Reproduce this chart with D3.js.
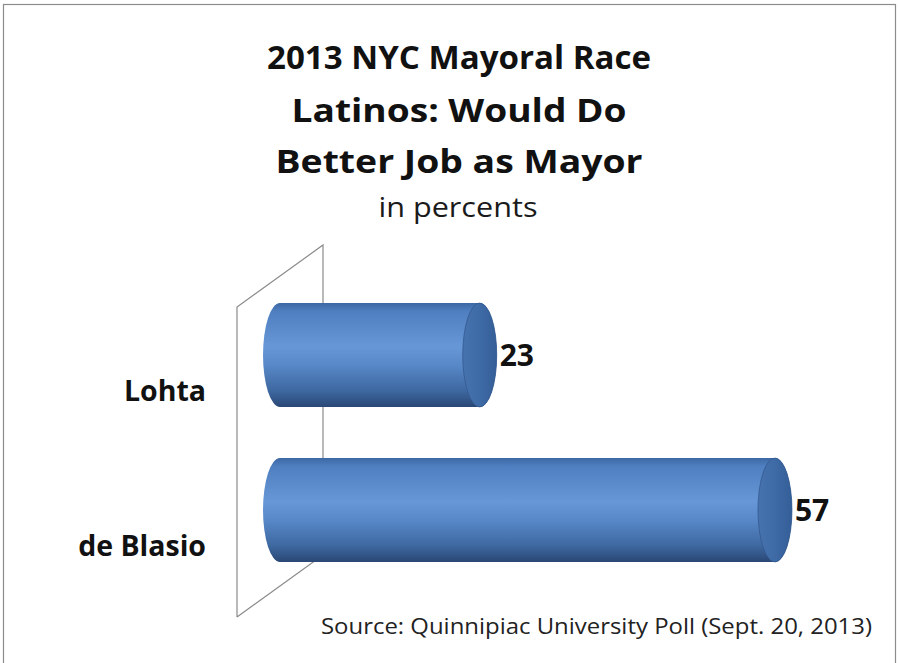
<!DOCTYPE html>
<html>
<head>
<meta charset="utf-8">
<script src="https://cdn.jsdelivr.net/npm/d3@7"></script>
<style>
  html, body { margin: 0; padding: 0; background: #fff; }
  svg { display: block; }
</style>
</head>
<body>
<svg id="chart" width="898" height="663"></svg>
<script>
// ---- data ----
const categories = ["Lohta", "de Blasio"];
const values = [23, 57];
const titleLines = ["2013 NYC Mayoral Race", "Latinos: Would Do", "Better Job as Mayor"];
const subtitle = "in percents";
const sourceText = "Source: Quinnipiac University Poll (Sept. 20, 2013)";

// ---- layout ----
const svg = d3.select("#chart");
const font = "'Open Sans', Lato, sans-serif";

// frame
svg.append("rect").attr("x", 3.5).attr("y", 4.5).attr("width", 892).attr("height", 670)
  .attr("fill", "#fff").attr("stroke", "#8c8c8c").attr("stroke-width", 1.2);

// scales
const x = d3.scaleLinear().domain([0, 60]).range([280, 801]);
const y = d3.scaleBand().domain(categories).range([277.5, 587.5])
  .paddingInner(0.33).paddingOuter(0.165);

// defs: gradients
const defs = svg.append("defs");
const bodyGrad = defs.append("linearGradient").attr("id", "bodyGrad")
  .attr("x1", 0).attr("y1", 0).attr("x2", 0).attr("y2", 1);
[[0, "#3d68a4"], [0.08, "#4f7fc0"], [0.42, "#6797d6"], [0.6, "#5888c8"], [0.85, "#3d679f"], [1, "#2a4775"]]
  .forEach(([o, c]) => bodyGrad.append("stop").attr("offset", o).attr("stop-color", c));
const capGrad = defs.append("linearGradient").attr("id", "capGrad")
  .attr("x1", 0).attr("y1", 0).attr("x2", 1).attr("y2", 0);
[[0, "#4672ae"], [0.5, "#3e6aa5"], [1, "#345e98"]]
  .forEach(([o, c]) => capGrad.append("stop").attr("offset", o).attr("stop-color", c));

// 3D wall (back plane)
const wall = svg.append("g").attr("stroke", "#8a8a8a").attr("stroke-width", 1.2).attr("fill", "none");
const wx0 = 237, wx1 = 323, wTop0 = 307, wTop1 = 245, wBot0 = 617, wBot1 = 555;
wall.append("path").attr("d", `M${wx0},${wBot0} L${wx0},${wTop0} L${wx1},${wTop1} L${wx1},${wBot1} L${wx0},${wBot0}`);

// bars as cylinders
const rx = 17;
const bars = svg.append("g");
categories.forEach((c, i) => {
  const v = values[i];
  const x0 = x(0), x1 = x(v);
  const top = y(c), bh = y.bandwidth(), bot = top + bh, ry = bh / 2;
  bars.append("path")
    .attr("d", `M${x0},${top} L${x1},${top} A${rx},${ry} 0 0 1 ${x1},${bot} L${x0},${bot} A${rx},${ry} 0 0 1 ${x0},${top} Z`)
    .attr("fill", "url(#bodyGrad)");
  bars.append("ellipse")
    .attr("cx", x1).attr("cy", top + ry).attr("rx", rx).attr("ry", ry)
    .attr("fill", "url(#capGrad)").attr("stroke", "#34598f").attr("stroke-width", 0.8);
  // value label
  svg.append("text")
    .attr("x", x1 + rx + 3).attr("y", top + ry).attr("dy", "0.36em")
    .attr("font-family", font).attr("font-weight", "bold").attr("font-size", 30)
    .attr("fill", "#111").text(v);
  // category label
  svg.append("text")
    .attr("x", 206).attr("y", top + ry + 46)
    .attr("text-anchor", "end")
    .attr("font-family", font).attr("font-weight", "bold").attr("font-size", 28.5)
    .attr("fill", "#111").text(c);
});

// title
const titleY = [69, 122, 173];
const titleW = [384, 335, 367];
titleLines.forEach((t, i) => {
  svg.append("text").attr("x", 459).attr("y", titleY[i]).attr("text-anchor", "middle")
    .attr("font-family", font).attr("font-weight", "bold").attr("font-size", 33)
    .attr("textLength", titleW[i]).attr("lengthAdjust", "spacingAndGlyphs")
    .attr("fill", "#111").text(t);
});
svg.append("text").attr("x", 458).attr("y", 217).attr("text-anchor", "middle")
  .attr("font-family", font).attr("font-size", 28)
  .attr("textLength", 159).attr("lengthAdjust", "spacingAndGlyphs")
  .attr("fill", "#1a1a1a").text(subtitle);

// source
svg.append("text").attr("x", 872).attr("y", 634).attr("text-anchor", "end")
  .attr("font-family", font).attr("font-size", 22)
  .attr("textLength", 551).attr("lengthAdjust", "spacingAndGlyphs")
  .attr("fill", "#222").text(sourceText);
</script>
</body>
</html>
